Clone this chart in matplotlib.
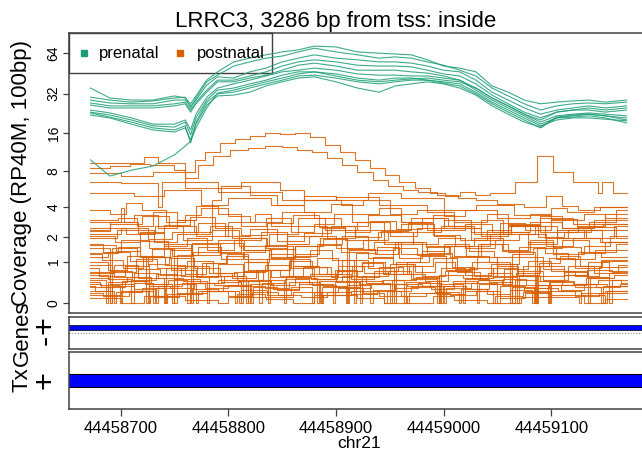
import numpy as np
import matplotlib
matplotlib.use('Agg')
import matplotlib.pyplot as plt
from matplotlib.patches import Rectangle

plt.rcParams['font.family'] = ['Liberation Sans', 'DejaVu Sans']

# genomic positions are stored as offsets from this base (chr21)
pos_base = 44458000

# prenatal samples: coverage on log2(cov + 1) scale at shared positions
prenatal_pos = [672, 690, 710, 730, 750, 760, 765, 770, 780, 790, 805, 820, 835, 850, 865, 880, 900,
                920, 940, 955, 970, 985, 1000, 1015, 1030, 1045, 1060, 1075, 1090, 1105, 1120, 1135, 1150, 1170]
prenatal_log2 = [
    [5.18, 4.94, 4.89, 4.89, 4.99, 4.94, 4.80, 4.99, 5.37, 5.57, 5.81, 5.90, 5.98, 6.05, 6.10, 6.19, 6.17,
     6.05, 6.02, 6.00, 5.98, 5.86, 5.71, 5.66, 5.57, 5.23, 5.08, 4.89, 4.80, 4.84, 4.87, 4.89, 4.84, 4.89],
    [4.96, 4.89, 4.84, 4.87, 4.94, 4.96, 4.70, 4.94, 5.33, 5.49, 5.71, 5.81, 5.90, 5.95, 6.05, 6.14, 6.05,
     5.98, 5.90, 5.93, 5.90, 5.81, 5.73, 5.61, 5.47, 5.18, 4.99, 4.80, 4.65, 4.75, 4.80, 4.82, 4.80, 4.84],
    [4.89, 4.82, 4.80, 4.80, 4.89, 4.89, 4.75, 4.89, 5.25, 5.45, 5.42, 5.57, 5.66, 5.81, 5.90, 5.98, 5.90,
     5.86, 5.81, 5.81, 5.78, 5.71, 5.61, 5.57, 5.37, 5.08, 4.89, 4.70, 4.55, 4.65, 4.70, 4.75, 4.70, 4.75],
    [4.82, 4.75, 4.75, 4.75, 4.80, 4.84, 4.65, 4.84, 5.13, 5.37, 5.37, 5.47, 5.57, 5.71, 5.81, 5.86, 5.81,
     5.73, 5.71, 5.71, 5.69, 5.61, 5.52, 5.47, 5.28, 5.01, 4.80, 4.60, 4.46, 4.60, 4.65, 4.65, 4.60, 4.65],
    [4.77, 4.70, 4.70, 4.70, 4.75, 4.80, 4.60, 4.80, 5.08, 5.33, 5.33, 5.42, 5.49, 5.61, 5.73, 5.78, 5.71,
     5.61, 5.61, 5.61, 5.57, 5.54, 5.47, 5.37, 5.18, 4.94, 4.75, 4.55, 4.36, 4.51, 4.55, 4.58, 4.55, 4.51],
    [4.65, 4.58, 4.46, 4.31, 4.31, 4.41, 4.17, 4.55, 4.96, 5.18, 5.28, 5.37, 5.47, 5.57, 5.61, 5.66, 5.61,
     5.52, 5.49, 5.49, 5.47, 5.47, 5.42, 5.37, 5.13, 4.89, 4.70, 4.51, 4.31, 4.46, 4.51, 4.55, 4.51, 4.46],
    [4.60, 4.53, 4.41, 4.27, 4.24, 4.36, 4.05, 4.46, 4.89, 5.13, 5.18, 5.28, 5.37, 5.49, 5.57, 5.57, 5.52,
     5.42, 5.37, 5.42, 5.42, 5.37, 5.33, 5.28, 5.08, 4.84, 4.65, 4.46, 4.27, 4.41, 4.46, 4.46, 4.43, 4.39],
    [4.58, 4.48, 4.36, 4.22, 4.17, 4.27, 3.86, 4.36, 4.84, 5.04, 5.08, 5.18, 5.28, 5.37, 5.47, 5.49, 5.42,
     5.33, 5.28, 5.33, 5.37, 5.37, 5.30, 5.23, 5.04, 4.80, 4.60, 4.41, 4.22, 4.46, 4.48, 4.51, 4.46, 4.34],
    [4.53, 4.46, 4.31, 4.17, 4.12, 4.22, 3.93, 4.31, 4.77, 4.99, 5.01, 5.08, 5.23, 5.33, 5.42, 5.45, 5.33,
     5.18, 5.08, 5.23, 5.28, 5.33, 5.28, 5.18, 5.01, 4.75, 4.55, 4.36, 4.24, 4.48, 4.53, 4.55, 4.51, 4.41],
    [3.45, 3.06, 3.20, 3.30, 3.57, 3.78, 3.90, 4.22, 4.70, 5.06, 5.13, 5.23, 5.33, 5.42, 5.52, 5.57, 5.47,
     5.37, 5.33, 5.37, 5.40, 5.42, 5.37, 5.33, 5.18, 4.94, 4.75, 4.55, 4.41, 4.60, 4.65, 4.70, 4.65, 4.70],
]

# postnatal samples: step coverage, each with its own breakpoints
postnatal_pos = [
    [672, 690, 709, 727, 750, 760, 769, 778, 792, 806, 820, 834, 848, 862, 876, 890, 904, 918, 932, 946,
     959, 973, 987, 1001, 1015, 1029, 1043, 1066, 1087, 1102, 1120, 1143, 1147, 1157, 1170],
    [672, 700, 730, 760, 772, 786, 802, 818, 834, 850, 864, 878, 892, 906, 920, 934, 948, 962, 976, 994,
     1013, 1030, 1050, 1075, 1095, 1110, 1125, 1145, 1170],
    [672, 700, 735, 738, 760, 790, 812, 830, 848, 870, 905, 925, 950, 975, 1000, 1020, 1050, 1080, 1100,
     1130, 1150, 1170],
    [672, 708, 722, 735, 760, 790, 850, 900, 940, 985, 1010, 1040, 1060, 1090, 1120, 1170],
    [672, 712, 740, 775, 800, 840, 870, 900, 930, 960, 1000, 1030, 1065, 1100, 1115, 1140, 1170],
    [672, 690, 705, 720, 742, 760, 775, 800, 820, 850, 880, 905, 930, 960, 985, 1020, 1045, 1080, 1110,
     1140, 1170],
    [672, 698, 715, 730, 752, 770, 790, 812, 835, 858, 880, 898, 915, 945, 970, 1000, 1035, 1060, 1090,
     1125, 1150, 1170],
    [672, 700, 703, 712, 735, 752, 768, 785, 793, 820, 845, 870, 895, 915, 940, 960, 990, 1010, 1035, 1055,
     1085, 1105, 1130, 1170],
    [672, 690, 720, 745, 770, 800, 825, 840, 865, 890, 920, 950, 975, 1000, 1025, 1060, 1090, 1110, 1135,
     1160, 1170],
    [672, 695, 718, 740, 762, 780, 805, 830, 855, 875, 900, 925, 948, 972, 995, 1020, 1048, 1070, 1095,
     1120, 1145, 1170],
    [672, 684, 700, 726, 748, 766, 790, 812, 836, 860, 882, 906, 930, 955, 980, 1005, 1028, 1055, 1078,
     1102, 1130, 1155, 1170],
    [672, 705, 732, 758, 785, 810, 838, 865, 892, 918, 945, 972, 998, 1025, 1052, 1078, 1105, 1132, 1158,
     1170],
    [672, 690, 692, 715, 740, 765, 767, 790, 815, 840, 862, 885, 910, 912, 935, 960, 985, 1010, 1035, 1060,
     1085, 1087, 1110, 1135, 1160, 1170],
    [672, 697, 731, 752, 783, 803, 835, 855, 887, 908, 939, 960, 991, 1011, 1043, 1063, 1094, 1116, 1147,
     1170],
    [672, 688, 706, 724, 726, 745, 768, 792, 815, 838, 860, 884, 906, 930, 954, 956, 978, 1002, 1026, 1050,
     1074, 1098, 1122, 1146, 1170],
    [672, 694, 716, 740, 742, 762, 786, 808, 832, 856, 878, 902, 926, 950, 972, 996, 998, 1020, 1044, 1068,
     1092, 1116, 1140, 1162, 1170],
    [672, 683, 702, 721, 741, 760, 779, 799, 818, 837, 839, 857, 876, 895, 915, 934, 953, 973, 992, 1011,
     1031, 1050, 1069, 1089, 1108, 1127, 1147, 1170],
    [672, 690, 711, 733, 752, 771, 793, 812, 814, 834, 856, 877, 899, 920, 940, 962, 983, 1004, 1026, 1046,
     1068, 1070, 1090, 1112, 1133, 1154, 1170],
    [672, 680, 704, 725, 747, 770, 790, 814, 836, 858, 880, 901, 924, 946, 968, 990, 1012, 1034, 1056, 1078,
     1100, 1122, 1144, 1170],
    [672, 698, 718, 746, 766, 792, 815, 838, 862, 884, 905, 930, 953, 975, 1000, 1024, 1047, 1070, 1094,
     1116, 1141, 1170],
    [672, 676, 690, 692, 712, 730, 732, 750, 770, 772, 795, 818, 820, 842, 866, 885, 887, 910, 932, 934,
     955, 980, 1000, 1002, 1025, 1050, 1052, 1075, 1098, 1100, 1122, 1146, 1148, 1170],
    [672, 686, 688, 706, 728, 748, 750, 774, 796, 816, 818, 840, 862, 882, 884, 906, 928, 950, 952, 974,
     996, 1018, 1020, 1042, 1064, 1086, 1088, 1110, 1132, 1154, 1156, 1170],
    [672, 694, 696, 720, 741, 743, 766, 790, 810, 812, 836, 858, 878, 880, 902, 925, 945, 947, 970, 992,
     1014, 1016, 1040, 1062, 1082, 1084, 1106, 1128, 1150, 1152, 1170],
    [672, 700, 722, 760, 790, 800, 835, 860, 880, 920, 945, 990, 1010, 1040, 1072, 1100, 1130, 1150, 1170],
    [672, 688, 710, 712, 735, 758, 780, 782, 805, 828, 852, 854, 876, 900, 922, 924, 948, 970, 994, 996,
     1018, 1041, 1064, 1066, 1088, 1112, 1134, 1136, 1158, 1170],
    [672, 682, 704, 726, 746, 768, 790, 812, 834, 856, 878, 900, 922, 944, 966, 988, 1010, 1032, 1054, 1076,
     1098, 1120, 1142, 1164, 1170],
    [672, 692, 714, 734, 756, 776, 798, 818, 840, 860, 882, 902, 924, 944, 966, 986, 1008, 1028, 1050, 1070,
     1092, 1112, 1134, 1154, 1170],
    [672, 700, 725, 748, 772, 797, 820, 845, 870, 895, 918, 942, 967, 990, 1015, 1040, 1063, 1088, 1112,
     1137, 1160, 1170],
    [672, 684, 708, 730, 754, 776, 800, 822, 846, 868, 892, 914, 938, 960, 984, 1006, 1030, 1052, 1076,
     1098, 1122, 1144, 1170],
    [672, 696, 718, 744, 766, 792, 814, 840, 862, 888, 910, 936, 958, 984, 1006, 1032, 1054, 1080, 1102,
     1128, 1150, 1170],
    [672, 681, 699, 701, 723, 744, 762, 764, 787, 809, 829, 831, 853, 875, 897, 899, 921, 943, 963, 965,
     987, 1009, 1031, 1033, 1055, 1077, 1097, 1099, 1121, 1143, 1165, 1170],
    [672, 690, 712, 733, 735, 757, 778, 800, 821, 823, 845, 866, 888, 909, 911, 933, 954, 976, 997, 999,
     1021, 1042, 1064, 1085, 1087, 1109, 1130, 1152, 1170],
    [672, 694, 716, 737, 760, 782, 803, 826, 848, 869, 892, 914, 935, 958, 980, 1001, 1024, 1046, 1067,
     1090, 1112, 1133, 1156, 1170],
    [672, 688, 709, 729, 750, 752, 772, 793, 814, 834, 855, 876, 896, 917, 919, 938, 959, 980, 1000, 1021,
     1042, 1062, 1064, 1083, 1104, 1125, 1146, 1170],
    [672, 700, 725, 727, 752, 780, 806, 808, 834, 860, 886, 888, 914, 940, 966, 968, 994, 1020, 1046, 1048,
     1074, 1100, 1126, 1128, 1150, 1170],
    [672, 690, 716, 740, 764, 788, 812, 836, 860, 884, 908, 932, 956, 980, 1004, 1028, 1052, 1076, 1100,
     1124, 1148, 1170],
]
postnatal_log2 = [
    [3.25, 3.30, 3.35, 3.33, 3.20, 3.16, 3.45, 3.64, 3.86, 3.95, 4.02, 4.10, 4.07, 4.10, 4.00, 3.81, 3.64,
     3.45, 3.25, 3.08, 2.92, 2.77, 2.65, 2.58, 2.67, 2.60, 2.65, 2.92, 3.54, 3.16, 2.92, 2.65, 2.92, 2.65, 2.65],
    [3.13, 3.06, 3.16, 3.01, 3.33, 3.54, 3.69, 3.73, 3.78, 3.76, 3.69, 3.64, 3.49, 3.33, 3.16, 2.96, 2.82,
     2.72, 2.67, 2.60, 2.53, 2.48, 2.39, 2.31, 2.58, 2.34, 2.24, 2.31, 2.31],
    [2.92, 2.89, 2.31, 2.92, 2.92, 2.77, 2.92, 2.92, 2.72, 2.48, 2.36, 2.48, 2.14, 2.24, 2.10, 2.24, 2.05,
     2.14, 2.00, 2.14, 2.05, 2.05],
    [3.37, 3.37, 3.52, 3.37, 2.77, 2.67, 2.48, 2.55, 2.36, 2.19, 1.95, 2.14, 1.88, 2.05, 1.90, 1.90],
    [2.65, 2.58, 2.72, 2.36, 2.53, 2.36, 2.58, 2.48, 2.65, 2.53, 2.24, 2.36, 2.12, 2.29, 2.19, 2.31, 2.31],
    [2.24, 2.14, 2.41, 2.24, 1.95, 2.12, 2.29, 2.10, 1.95, 2.19, 2.05, 1.86, 2.12, 1.95, 1.76, 1.90, 1.71,
     1.95, 1.81, 2.00, 2.00],
    [2.00, 2.05, 1.86, 2.19, 2.00, 2.34, 2.14, 1.86, 2.05, 1.71, 1.90, 2.14, 1.95, 1.76, 2.05, 1.81, 1.61,
     1.90, 1.71, 1.86, 2.14, 2.14],
    [1.95, 2.29, 1.95, 2.12, 1.81, 2.00, 1.71, 2.48, 2.82, 2.60, 2.36, 2.19, 2.39, 2.14, 2.29, 1.95, 2.12,
     1.81, 2.00, 1.66, 1.86, 1.57, 1.76, 1.76],
    [1.76, 1.90, 2.10, 1.86, 1.61, 1.95, 2.14, 1.86, 2.05, 1.76, 1.95, 1.61, 1.81, 2.00, 1.71, 1.86, 2.10,
     1.81, 1.95, 2.24, 2.24],
    [1.61, 1.47, 1.71, 1.37, 1.57, 1.28, 1.52, 1.71, 1.42, 1.61, 1.33, 1.52, 1.71, 1.42, 1.57, 1.33, 1.52,
     1.66, 1.37, 1.57, 1.47, 1.47],
    [1.42, 1.23, 1.52, 1.33, 1.13, 1.42, 1.23, 1.57, 1.37, 1.13, 1.42, 1.61, 1.28, 1.47, 1.18, 1.37, 1.57,
     1.28, 1.47, 1.18, 1.37, 1.61, 1.61],
    [1.81, 1.66, 1.86, 1.52, 1.76, 1.37, 1.66, 1.86, 1.57, 1.76, 1.42, 1.71, 1.86, 1.52, 1.71, 1.42, 1.76,
     1.57, 1.86, 1.86],
    [1.33, 0, 1.33, 1.13, 1.42, 0, 1.23, 1.52, 1.28, 1.08, 1.37, 1.57, 0, 1.28, 1.47, 1.18, 1.37, 1.13,
     1.42, 1.23, 0, 1.33, 1.52, 1.23, 1.42, 1.42],
    [1.57, 1.76, 1.47, 1.66, 1.86, 1.57, 1.33, 1.61, 1.81, 1.52, 1.71, 1.90, 1.61, 1.37, 1.66, 1.86, 1.57,
     1.76, 1.47, 1.47],
    [0.99, 0.80, 1.13, 0, 0.94, 1.08, 0.84, 0.65, 0.99, 1.18, 0.89, 0.70, 1.04, 0.84, 0, 0.99, 1.13, 0.80,
     0.99, 0.65, 0.89, 1.08, 0.84, 1.04, 1.04],
    [0.72, 0.92, 0.60, 0, 0.84, 1.01, 0.72, 0.55, 0.80, 1.01, 0.65, 0.88, 0.72, 0.95, 0.60, 0, 0.84, 0.68,
     0.95, 0.76, 0.55, 0.88, 0.72, 0.92, 0.92],
    [1.18, 1.04, 0.84, 1.10, 0.92, 0.70, 0.96, 1.18, 1.00, 0, 0.80, 1.06, 0.86, 0.62, 0.90, 1.12, 0.94,
     0.74, 1.00, 0.82, 1.10, 0.90, 0.68, 0.96, 1.14, 0.88, 1.02, 1.02],
    [0.60, 0.78, 0.55, 0.70, 0.88, 0.64, 0.50, 0, 0.74, 0.92, 0.66, 0.58, 0.80, 0.62, 0.86, 0.70, 0.52,
     0.76, 0.60, 0.84, 0, 0.66, 0.54, 0.78, 0.62, 0.72, 0.72],
    [0.85, 0.66, 0.90, 1.12, 0.80, 0.62, 0.94, 0.76, 1.06, 0.84, 0.58, 0.78, 1.00, 0.70, 0.88, 1.08, 0.74,
     0.56, 0.82, 1.02, 0.76, 0.64, 0.86, 0.86],
    [1.20, 1.35, 1.12, 1.28, 1.45, 1.20, 1.05, 1.30, 1.18, 1.40, 1.22, 1.08, 1.32, 1.16, 1.42, 1.26, 1.10,
     1.34, 1.20, 1.06, 1.28, 1.28],
    [0.42, 0.30, 0, 0.42, 0.48, 0, 0.36, 0.45, 0, 0.30, 0.40, 0, 0.46, 0.34, 0.50, 0, 0.38, 0.44, 0, 0.32,
     0.46, 0.40, 0, 0.36, 0.48, 0, 0.42, 0.30, 0, 0.44, 0.38, 0, 0.40, 0.40],
    [0.55, 0, 0.50, 0.62, 0.45, 0, 0.58, 0.48, 0.64, 0, 0.52, 0.44, 0.60, 0, 0.54, 0.66, 0.48, 0, 0.56,
     0.62, 0.46, 0, 0.58, 0.50, 0.64, 0, 0.52, 0.44, 0.60, 0, 0.55, 0.55],
    [0.30, 0, 0.26, 0.36, 0, 0.22, 0.34, 0.28, 0, 0.32, 0.20, 0.38, 0, 0.27, 0.35, 0.24, 0, 0.30, 0.38,
     0.26, 0, 0.34, 0.22, 0.31, 0, 0.36, 0.28, 0.20, 0, 0.30, 0.30],
    [0.12, 0, 0.18, 0.08, 0, 0.15, 0.10, 0, 0.20, 0.12, 0, 0.16, 0.08, 0, 0.14, 0.20, 0, 0.10, 0.10],
    [0.68, 0.58, 0, 0.72, 0.60, 0.52, 0, 0.66, 0.74, 0.56, 0, 0.62, 0.70, 0.54, 0, 0.64, 0.76, 0.58, 0,
     0.68, 0.60, 0.72, 0, 0.56, 0.66, 0.74, 0, 0.60, 0.68, 0.68],
    [0.45, 0.38, 0.52, 0.40, 0.35, 0.48, 0.55, 0.42, 0.36, 0.50, 0.44, 0.38, 0.53, 0.46, 0.40, 0.34, 0.49,
     0.56, 0.43, 0.37, 0.51, 0.45, 0.39, 0.47, 0.47],
    [0.92, 0.74, 1.05, 0.84, 0.66, 0.96, 1.14, 0.80, 0.62, 0.90, 1.08, 0.78, 0.96, 0.70, 1.00, 1.20, 0.86,
     0.64, 0.94, 1.10, 0.82, 0.68, 0.98, 0.76, 0.76],
    [1.66, 1.80, 1.55, 1.72, 1.92, 1.62, 1.78, 1.50, 1.68, 1.86, 1.58, 1.74, 1.94, 1.64, 1.52, 1.76, 1.88,
     1.60, 1.70, 1.84, 1.56, 1.56],
    [0.25, 0.18, 0.28, 0.15, 0.22, 0.30, 0.17, 0.26, 0.20, 0.14, 0.27, 0.21, 0.29, 0.16, 0.24, 0.19, 0.28,
     0.13, 0.23, 0.30, 0.18, 0.25, 0.25],
    [1.40, 1.25, 1.50, 1.32, 1.15, 1.44, 1.28, 1.10, 1.38, 1.55, 1.30, 1.18, 1.46, 1.34, 1.12, 1.42, 1.26,
     1.52, 1.36, 1.20, 1.48, 1.48],
    [0.50, 0.44, 0, 0.52, 0.47, 0.56, 0, 0.49, 0.43, 0.54, 0, 0.48, 0.57, 0.45, 0, 0.51, 0.46, 0.55, 0,
     0.50, 0.42, 0.53, 0, 0.47, 0.58, 0.44, 0, 0.52, 0.46, 0.55, 0.49, 0.49],
    [0.38, 0.46, 0.33, 0, 0.41, 0.48, 0.36, 0.44, 0, 0.39, 0.31, 0.47, 0.40, 0, 0.35, 0.45, 0.37, 0.49, 0,
     0.42, 0.34, 0.46, 0.38, 0, 0.43, 0.32, 0.47, 0.40, 0.40],
    [0.74, 0.62, 0.82, 0.68, 0.88, 0.72, 0.60, 0.80, 0.66, 0.86, 0.70, 0.58, 0.78, 0.90, 0.64, 0.76, 0.84,
     0.62, 0.72, 0.88, 0.68, 0.80, 0.74, 0.74],
    [1.10, 1.24, 1.02, 1.30, 0, 1.16, 1.36, 1.06, 1.22, 1.40, 1.12, 1.28, 1.04, 0, 1.20, 1.34, 1.08, 1.26,
     1.38, 1.14, 1.00, 0, 1.18, 1.32, 1.06, 1.24, 1.12, 1.12],
    [0.20, 0.28, 0, 0.16, 0.24, 0.30, 0, 0.22, 0.14, 0.26, 0, 0.19, 0.29, 0.17, 0, 0.25, 0.21, 0.30, 0,
     0.18, 0.27, 0.15, 0, 0.23, 0.28, 0.28],
    [1.74, 1.96, 1.68, 1.88, 2.08, 1.80, 1.64, 1.92, 2.12, 1.84, 1.70, 1.98, 1.78, 2.04, 1.86, 1.66, 1.94,
     1.76, 2.02, 1.82, 1.90, 1.90],
]

cov_ticks = [0, 1, 2, 4, 8, 16, 32, 64]
pos_ticks = [44458700, 44458800, 44458900, 44459000, 44459100]
tx_start, tx_end = 44455386, 44459600
xlim = (44458652.3, 44459190.8)

green = '#1B9E77'
orange = '#D95F02'
blue = '#0000FF'
frame = '#404040'

fig = plt.figure(figsize=(6.42, 4.5), dpi=100)
left, width = 0.1079, 0.9030
ax = fig.add_axes([left, 0.3044, width, 0.6229])
ax_gene = fig.add_axes([left, 0.2238, width, 0.0724])
ax_tx = fig.add_axes([left, 0.0922, width, 0.1256])

# coverage panel
for p, v in zip(postnatal_pos, postnatal_log2):
    ax.step(np.array(p) + pos_base, v, where='post', color=orange, lw=0.8, alpha=0.85)
for v in prenatal_log2:
    ax.plot(np.array(prenatal_pos) + pos_base, v, color=green, lw=0.8, alpha=0.85)

ax.set_xlim(xlim)
ax.set_ylim(-0.241, 6.513)
ax.set_yticks(np.log2(np.array(cov_ticks) + 1))
ax.set_yticklabels([str(t) for t in cov_ticks], rotation=90, va='center', fontsize=10)
ax.tick_params(axis='y', length=4.3, width=0.9, color=frame, pad=2)
ax.set_xticks([])
ax.spines['right'].set_visible(False)

# legend box in the top-left corner
ax.add_patch(Rectangle((0, 0.857), 0.35, 0.143, transform=ax.transAxes, fill=False,
                       edgecolor=frame, lw=1.0, clip_on=False))
ax.plot([0.0259], [0.9276], 's', transform=ax.transAxes, color=green, ms=5)
ax.text(0.0517, 0.9276, 'prenatal', transform=ax.transAxes, va='center', fontsize=12)
ax.plot([0.1914], [0.9276], 's', transform=ax.transAxes, color=orange, ms=5)
ax.text(0.2207, 0.9276, 'postnatal', transform=ax.transAxes, va='center', fontsize=12)

# gene track
ax_gene.set_xlim(xlim)
ax_gene.set_ylim(0, 1)
ax_gene.add_patch(Rectangle((tx_start, 0.583), tx_end - tx_start, 0.172,
                            facecolor=blue, edgecolor='black', lw=0.5))
ax_gene.axhline(0.509, color='#888888', ls=(0, (1, 1.5)), lw=0.8)
ax_gene.set_xticks([])
ax_gene.set_yticks([])

# transcript track
ax_tx.set_xlim(xlim)
ax_tx.set_ylim(0, 1)
ax_tx.add_patch(Rectangle((tx_start, 0.375), tx_end - tx_start, 0.236,
                          facecolor=blue, edgecolor='black', lw=0.8))
ax_tx.set_yticks([])
ax_tx.set_xticks(pos_ticks)
ax_tx.set_xticklabels([str(t) for t in pos_ticks], fontsize=12)
ax_tx.tick_params(axis='x', length=4.7, width=0.9, color=frame, pad=4)

for a in (ax, ax_gene, ax_tx):
    for s in a.spines.values():
        s.set_color(frame)
        s.set_linewidth(1.1)

fig.text(335.5 / 642, 1 - 26.7 / 450, 'LRRC3, 3286 bp from tss: inside',
         ha='center', va='baseline', fontsize=16)
fig.text(359 / 642, 1 - 443 / 450, 'chr21', ha='center', va='center', fontsize=12.5)

# track titles and strand marks on the left
fig.text(22 / 642, 1 - 173 / 450, 'Coverage (RP40M, 100bp)', rotation=90,
         ha='center', va='center', fontsize=16)
fig.text(22 / 642, 1 - 333 / 450, 'Genes', rotation=90, ha='center', va='center', fontsize=16)
fig.text(22 / 642, 1 - 380 / 450, 'Tx', rotation=90, ha='center', va='center', fontsize=16)
fig.text(46 / 642, 1 - 324.7 / 450, '+', rotation=90, ha='center', va='center', fontsize=22)
fig.text(46 / 642, 1 - 340 / 450, '-', rotation=90, ha='center', va='center', fontsize=22)
fig.text(46 / 642, 1 - 380 / 450, '+', rotation=90, ha='center', va='center', fontsize=22)

fig.savefig('out.png', dpi=100)
